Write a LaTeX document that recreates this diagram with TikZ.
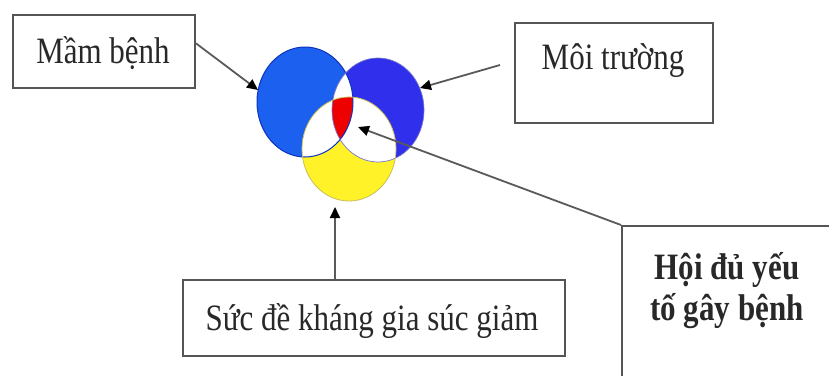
\documentclass[tikz,border=0pt]{standalone}
\usepackage{fontspec}
\usepackage{graphicx}
\setmainfont{Liberation Serif}
\usetikzlibrary{arrows.meta,calc}
\definecolor{blueL}{RGB}{28,96,240}
\definecolor{blueLd}{RGB}{15,50,190}
\definecolor{blueR}{RGB}{48,48,236}
\definecolor{blueRd}{RGB}{25,25,170}
\definecolor{yel}{RGB}{255,242,40}
\definecolor{yeld}{RGB}{200,190,90}
\definecolor{redC}{RGB}{238,0,0}
\definecolor{boxgray}{RGB}{85,85,85}
\definecolor{linegray}{RGB}{90,90,90}
\definecolor{txt}{RGB}{40,40,40}
\tikzset{
  box/.style={draw=boxgray, line width=2.2pt, fill=white, inner sep=0pt},
  lbl/.style={font=\fontsize{31}{33.5}\selectfont, text=txt, inner sep=0pt},
  conn/.style={draw=linegray, line width=1.8pt, -{Triangle[length=11pt,width=10pt,color=black]}},
}
\newcommand{\vs}[1]{\scalebox{1}[1.2]{#1}}
\begin{document}
\begin{tikzpicture}[x=1pt,y=-1pt]
\useasboundingbox (0,0) rectangle (829,375);
\clip (0,0) rectangle (829,375);
\fill[white] (0,0) rectangle (829,375);

% Venn diagram
\def\Lpath{(305,102) ellipse [x radius=48, y radius=55]}
\def\Rpath{(378,110) ellipse [x radius=46, y radius=52]}
\def\Bpath{(349,149) ellipse [x radius=47, y radius=52]}
\fill[blueL] \Lpath;
\fill[blueR] \Rpath;
\fill[yel] \Bpath;
\begin{scope}\clip \Lpath; \fill[white] \Rpath; \fill[white] \Bpath; \end{scope}
\begin{scope}\clip \Rpath; \fill[white] \Bpath; \end{scope}
\begin{scope}\clip \Lpath; \clip \Rpath; \fill[redC] \Bpath; \end{scope}
\draw[blueLd, line width=1pt] \Lpath;
\draw[blueRd!60!white, line width=0.7pt] \Rpath;
\draw[yeld, line width=0.8pt] \Bpath;

% boxes
\node[box, minimum width=182pt, minimum height=73pt] (mam) at (104,51.5) {};
\node[lbl] at (103,53) {\vs{Mầm bệnh}};

\node[box, minimum width=198pt, minimum height=100pt] (moi) at (614,73) {};
\node[lbl] at (613,61) {\vs{Môi trường}};

\node[box, minimum width=382pt, minimum height=76pt] (suc) at (374,318) {};
\node[lbl] at (372,321) {\vs{Sức đề kháng gia súc giảm}};

\node[box, minimum width=230pt, minimum height=170pt, anchor=north west] (hoi) at (621,225) {};
\node[lbl, font=\fontsize{31}{33.5}\selectfont\bfseries] at (727,292)
  {\vs{\begin{tabular}{@{}c@{}}Hội đủ yếu\\tố gây bệnh\end{tabular}}};

% connector ends
\coordinate (tipM) at (258,90);
\coordinate (tipR) at (420,88);
\coordinate (startR) at (500,65);
\coordinate (tipH) at (358,127);
\coordinate (tipS) at (335,207);

\draw[conn] (mam.5) -- (tipM);
\draw[conn] (startR) -- (tipR);
\draw[conn] (hoi.north west) -- (tipH);
\draw[conn] (tipS |- suc.north) -- (tipS);
\end{tikzpicture}
\end{document}
